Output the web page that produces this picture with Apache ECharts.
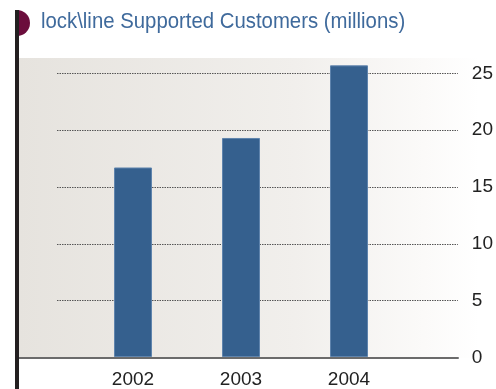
<!DOCTYPE html>
<html>
<head>
<meta charset="utf-8">
<script src="https://cdn.jsdelivr.net/npm/echarts@6/dist/echarts.min.js"></script>
<style>html,body{margin:0;padding:0;background:#fff}#c{width:496px;height:389px}</style>
</head>
<body>
<div id="c"></div>
<script>
const titleText = 'lock\\line Supported Customers (millions)';
const categories = ['2002', '2003', '2004'];
const customers = [16.7, 19.3, 25.7];
const yMin = 0, yMax = 25, yInterval = 5;

const chart = echarts.init(document.getElementById('c'), null, {renderer: 'canvas'});
const gTop = 73.3, gBottom = 31.5;
chart.setOption({
  animation: false,
  graphic: [
    {type: 'rect', z: -10, shape: {x: 19, y: 58, width: 460, height: 300},
     style: {fill: {type: 'linear', x: 0, y: 0, x2: 1, y2: 0, colorStops: [
       {offset: 0, color: '#e6e3de'}, {offset: 0.6, color: '#f1efec'}, {offset: 0.88, color: '#fbfaf9'}, {offset: 1, color: '#ffffff'}]}}},
    {type: 'sector', z: 10, shape: {cx: 17, cy: 23, r0: 0, r: 13, startAngle: -Math.PI / 2, endAngle: Math.PI / 2}, style: {fill: '#6b0d3c'}},
    {type: 'rect', z: 11, shape: {x: 15, y: 10, width: 4, height: 379}, style: {fill: '#231f20'}},
    {type: 'text', z: 12, x: 41, y: 11, scaleX: 0.925,
     style: {text: titleText, fill: '#3f6a9c', font: '22px "Liberation Sans", Arial, sans-serif'}}
  ],
  grid: [
    {left: 57, right: 38, top: gTop, bottom: gBottom},
    {left: 79, width: 324, top: gTop, bottom: gBottom},
    {left: 19, right: 38, top: gTop, bottom: gBottom}
  ],
  xAxis: [
    {type: 'category', gridIndex: 0, data: categories, show: false},
    {type: 'category', gridIndex: 1, data: categories,
     axisLine: {show: false}, axisTick: {show: false},
     axisLabel: {margin: 13, color: '#222', fontSize: 19, fontFamily: 'Liberation Sans, Arial, sans-serif'}},
    {type: 'category', gridIndex: 2, data: categories,
     axisLine: {show: true, lineStyle: {color: '#6b6b6b', width: 2}}, axisTick: {show: false}, axisLabel: {show: false}}
  ],
  yAxis: [
    {type: 'value', gridIndex: 0, position: 'right', min: yMin, max: yMax, interval: yInterval,
     axisLine: {show: false}, axisTick: {show: false},
     axisLabel: {margin: 14, color: '#222', fontSize: 19, fontFamily: 'Liberation Sans, Arial, sans-serif'},
     splitLine: {show: true, lineStyle: {color: '#555', width: 1, type: [1.5, 1]}}},
    {type: 'value', gridIndex: 1, min: yMin, max: yMax, interval: yInterval, show: false},
    {type: 'value', gridIndex: 2, min: yMin, max: yMax, interval: yInterval, show: false}
  ],
  series: [
    {type: 'bar', xAxisIndex: 1, yAxisIndex: 1, data: customers, barWidth: 38, clip: false, z: 5,
     itemStyle: {color: '#35608e', borderColor: '#5f84ad', borderWidth: 1}}
  ]
});
</script>
</body>
</html>
